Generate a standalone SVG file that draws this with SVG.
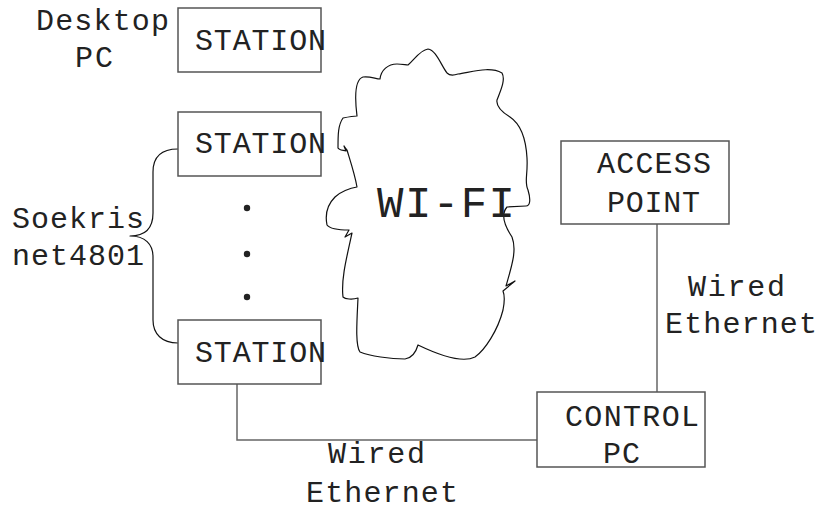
<svg xmlns="http://www.w3.org/2000/svg" width="820" height="510" viewBox="0 0 820 510">
<style>
.box{fill:#fff;stroke:#555;stroke-width:1.5}
.t{font-family:"Liberation Mono","Courier New",monospace;font-size:30px;fill:#222}
.wire{fill:none;stroke:#666;stroke-width:1.5}
.cloud{fill:none;stroke:#111;stroke-width:1.2;stroke-linejoin:round}
</style>
<rect width="820" height="510" fill="#fff"/>
<g id="connectors">
<path class="wire" d="M237,384 V440 H537"/>
<path class="wire" d="M657,224 V392"/>
<path class="cloud" d="M178,149 C160,149 153,158 153,172 V213 C153,228 145,236 130,236 C145,236 153,244 153,257 V320 C153,334 162,343 178,343"/>
</g>
<g id="wifi">
<path class="cloud" d="M357,116 C355,100 354,80 363,77 C370,76 376,79 380,79 C381,70 388,64 397,64 C402,64 406,65 408,65 C414,60 420,50 428,49 C436,50 441,65 447,73 C450,76 455,75 458,74 C472,72 490,66 502,73 C506,80 500,92 497,100 C496,106 502,112 510,117 C522,125 526,140 527,158 C528,175 524,182 528,190 C531,200 530,206 526,206 L507,207 C500,215 506,228 512,237 C517,250 512,265 506,286 L515,281 L503,291 C505,296 505,300 503,310 C498,330 485,350 475,357 C465,362 445,358 418,345 C416,352 412,358 405,359 C390,359 370,356 360,352 C355,345 357,320 358,298 C352,300 345,299 343,297 C341,280 346,260 352,233 L345,237 L349,230 C340,230 330,229 327,225 C325,215 327,205 335,197 C340,192 350,188 357,187 C355,175 350,160 347,150 L344,146 L346,151 C342,150 339,150 338,148 C338,135 338,125 343,118 C348,117 353,116 357,116 Z"/>
<text class="t" x="377" y="217" style="font-size:44px" textLength="138">WI-FI</text>
</g>
<g id="station1">
<rect class="box" x="178" y="8" width="143" height="64"/>
<text class="t" x="195" y="50" textLength="131">STATION</text>
</g>
<g id="desktop-label">
<text class="t" x="36" y="30" textLength="133">Desktop</text>
<text class="t" x="75" y="67" textLength="38">PC</text>
</g>
<g id="station2">
<rect class="box" x="178" y="112" width="143" height="64"/>
<text class="t" x="195" y="153" textLength="131">STATION</text>
</g>
<g id="dots">
<circle cx="247" cy="208" r="3.2" fill="#222"/>
<circle cx="247" cy="254" r="3.2" fill="#222"/>
<circle cx="247" cy="297" r="3.2" fill="#222"/>
</g>
<g id="station3">
<rect class="box" x="178" y="320" width="143" height="64"/>
<text class="t" x="195" y="362" textLength="131">STATION</text>
</g>
<g id="soekris-label">
<text class="t" x="12" y="228" textLength="132">Soekris</text>
<text class="t" x="12" y="265" textLength="132">net4801</text>
</g>
<g id="access-point">
<rect class="box" x="561" y="141" width="168" height="83"/>
<text class="t" x="597" y="173" textLength="114">ACCESS</text>
<text class="t" x="607" y="212" textLength="93">POINT</text>
</g>
<g id="control-pc">
<rect class="box" x="537" y="392" width="168" height="75"/>
<text class="t" x="565" y="426" textLength="134">CONTROL</text>
<text class="t" x="603" y="463" textLength="37">PC</text>
</g>
<g id="labels">
<text class="t" x="688" y="296" textLength="97">Wired</text>
<text class="t" x="665" y="333" textLength="152">Ethernet</text>
<text class="t" x="328" y="463" textLength="97">Wired</text>
<text class="t" x="306" y="502" textLength="152">Ethernet</text>
</g>
</svg>
